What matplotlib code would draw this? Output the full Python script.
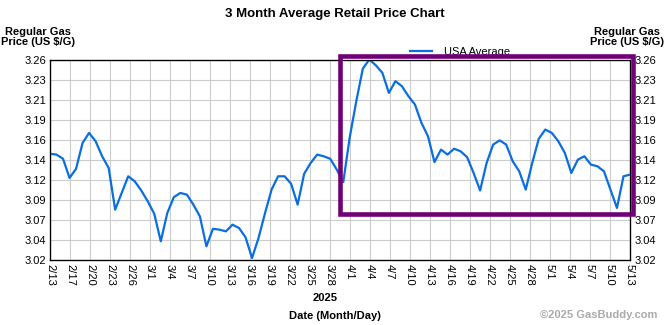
import matplotlib
matplotlib.use('Agg')
import matplotlib.pyplot as plt
import numpy as np
from matplotlib.patches import Rectangle

plt.rcParams['font.family'] = ['Liberation Sans', 'DejaVu Sans']

# daily USA average price, 2/13 .. 5/13
prices = [3.147, 3.146, 3.141, 3.118, 3.129, 3.160, 3.172, 3.162, 3.144, 3.130,
          3.080, 3.100, 3.120, 3.114, 3.103, 3.090, 3.075, 3.042, 3.076, 3.095,
          3.100, 3.098, 3.086, 3.072, 3.036, 3.057, 3.056, 3.054, 3.062, 3.058,
          3.047, 3.022, 3.046, 3.076, 3.104, 3.120, 3.120, 3.111, 3.086, 3.123,
          3.136, 3.146, 3.144, 3.141, 3.128, 3.113, 3.167, 3.210, 3.249, 3.260,
          3.253, 3.244, 3.220, 3.234, 3.228, 3.216, 3.206, 3.184, 3.168, 3.137,
          3.152, 3.146, 3.153, 3.150, 3.143, 3.124, 3.103, 3.136, 3.158, 3.163,
          3.158, 3.138, 3.126, 3.104, 3.136, 3.165, 3.176, 3.172, 3.162, 3.148,
          3.124, 3.140, 3.144, 3.134, 3.132, 3.126, 3.104, 3.082, 3.120, 3.122]

date_labels = ['2/13', '2/17', '2/20', '2/23', '2/26', '3/1', '3/4', '3/7', '3/10',
               '3/13', '3/16', '3/19', '3/22', '3/25', '3/28', '4/1', '4/4', '4/7',
               '4/10', '4/13', '4/16', '4/19', '4/22', '4/25', '4/28', '5/1', '5/4',
               '5/7', '5/10', '5/13']

y_labels = ['3.02', '3.04', '3.07', '3.09', '3.12', '3.14', '3.16', '3.19', '3.21',
            '3.23', '3.26']

W, H = 670, 325
fig = plt.figure(figsize=(W / 100, H / 100), dpi=100)
ax = fig.add_axes([50 / W, (H - 259.7) / H, 580 / W, 200.2 / H])

x = np.arange(len(prices))
line, = ax.plot(x, prices, color='#0a6ee0', lw=1.6, label='USA Average', zorder=3)

ax.set_xlim(0, len(prices) - 1)
ax.set_ylim(3.02, 3.26)
xt = np.linspace(0, len(prices) - 1, len(date_labels))
yt = np.linspace(3.02, 3.26, len(y_labels))
ax.set_xticks(xt)
ax.set_xticklabels(date_labels, rotation=-90, fontsize=8)
ax.set_yticks(yt)
ax.set_yticklabels(y_labels, fontsize=8)
ax.tick_params(length=0, pad=3)
ax.grid(True, color='#cccccc', lw=0.8)
for s in ax.spines.values():
    s.set_color('black')
    s.set_linewidth(0.9)

ax2 = ax.twinx()
ax2.set_ylim(3.02, 3.26)
ax2.set_yticks(yt)
ax2.set_yticklabels(y_labels, fontsize=8)
ax2.tick_params(length=0, pad=3)

fig.text(335 / W, 1 - 14 / H, '3 Month Average Retail Price Chart', ha='center',
         va='center', fontsize=9.5, fontweight='bold')
fig.text(38 / W, 1 - 37 / H, 'Regular Gas\nPrice (US $/G)', ha='center', va='center',
         fontsize=8, fontweight='bold', linespacing=1.05)
fig.text(627 / W, 1 - 37 / H, 'Regular Gas\nPrice (US $/G)', ha='center', va='center',
         fontsize=8, fontweight='bold', linespacing=1.05)
fig.text(325 / W, 1 - 298 / H, '2025', ha='center', va='center', fontsize=8,
         fontweight='bold')
fig.text(335 / W, 1 - 316 / H, 'Date (Month/Day)', ha='center', va='center',
         fontsize=8, fontweight='bold')
fig.text(658 / W, 1 - 315 / H, '\u00a92025 GasBuddy.com', ha='right', va='center',
         fontsize=8, fontweight='bold', color='#aaaaaa')

fig.legend(handles=[line], loc='center left', bbox_to_anchor=(410 / W, 1 - 52 / H),
           frameon=False, fontsize=8, handlelength=2.0, handletextpad=1.1,
           borderpad=0, borderaxespad=0)

fig.patches.append(Rectangle((340 / W, 1 - 214 / H), 292.5 / W, 158 / H,
                             transform=fig.transFigure, fill=False,
                             edgecolor='#700078', lw=3.3, zorder=10))

fig.savefig('out.png', dpi=100)
